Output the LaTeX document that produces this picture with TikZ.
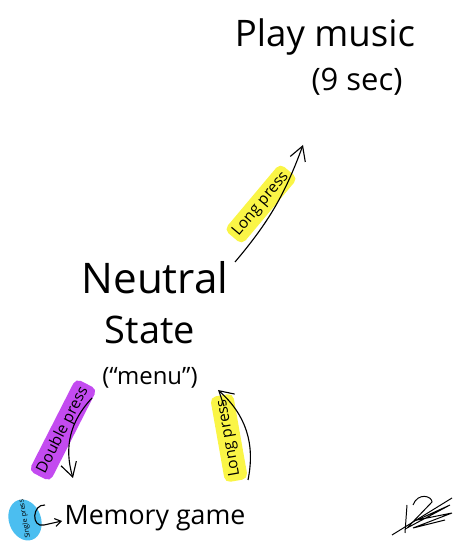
\documentclass[tikz,border=0pt]{standalone}
\usepackage{fontspec}
\setmainfont{Open Sans}
\usetikzlibrary{arrows.meta}

\definecolor{hlyellow}{RGB}{250,245,70}
\definecolor{hlpurple}{RGB}{195,75,240}
\definecolor{hlblue}{RGB}{75,190,240}

\begin{document}
\begin{tikzpicture}[
    x=0.025cm, y=0.025cm,
    line width=0.8pt,
    every node/.style={text=black, inner sep=1pt},
    hl/.style={fill=#1, rounded corners=4pt, inner sep=3pt, font=\fontsize{11}{12}\selectfont}, % highlighter marks
    arr/.style={-{Straight Barb[length=3.5mm,width=4mm]}}
]
    \useasboundingbox (0,0) rectangle (453,542);

    % --- TOP (Play music) ---
    \node[font=\fontsize{26}{30}\selectfont] (play) at (325,505) {Play music};
    \node[font=\fontsize{22}{26}\selectfont] (playsec) at (357,460) {(9 sec)};

    % --- MIDDLE (Neutral state) ---
    \node[font=\fontsize{30}{34}\selectfont] (neutral) at (155,264) {Neutral};
    \node[font=\fontsize{27}{30}\selectfont] (state) at (150,212) {State};
    \node[font=\fontsize{17}{20}\selectfont] (menu) at (150,164) {(``menu'')};

    % --- BOTTOM (Memory game) ---
    \node[font=\fontsize{19}{22}\selectfont] (memory) at (155,24) {Memory game};

    % Highlighter marks, drawn under the arrows
    \node[hl=hlyellow, rotate=50] (longup) at (261,338) {Long press};
    \node[hl=hlpurple, rotate=63] (double) at (63,112) {Double press};
    \node[hl=hlyellow, rotate=100] (longdown) at (229,104) {Long press};

    % Arrow ends
    \coordinate (up-start) at (235,280);
    \coordinate (up-end) at (303,397);
    \coordinate (dbl-start) at (92,144);
    \coordinate (dbl-end) at (73,64);
    \coordinate (back-start) at (248,62);
    \coordinate (back-end) at (218,152);

    % Arrows
    \draw[arr] (up-start) to[bend right=10] (up-end);
    \draw[arr] (dbl-start) to[bend right=30] (dbl-end);
    \draw[arr] (back-start) to[bend right=30] (back-end);

    % Single press loop
    \fill[hlblue, rotate around={20:(25,22)}] (25,22) ellipse (16 and 21);
    \node[font=\fontsize{5}{6}\selectfont, rotate=100] (single) at (25,23) {Single press};
    \coordinate (loop-start) at (45,37);
    \coordinate (loop-end) at (62,21);
    \draw[-{Straight Barb[length=1.5mm,width=2mm]}] (loop-start) .. controls (32,38) and (31,14) .. (44,17) -- (loop-end);

    % Signature scribble
    \draw[line width=0.7pt] (392,7) -- (452,44);
    \draw[line width=0.7pt] (407,37) -- (405,9);
    \draw[line width=0.7pt] (413,37) .. controls (418,50) and (432,46) .. (432,40) -- (407,14) -- (450,37) -- (417,22) -- (452,29) -- (413,14) -- (445,22);

\end{tikzpicture}
\end{document}
